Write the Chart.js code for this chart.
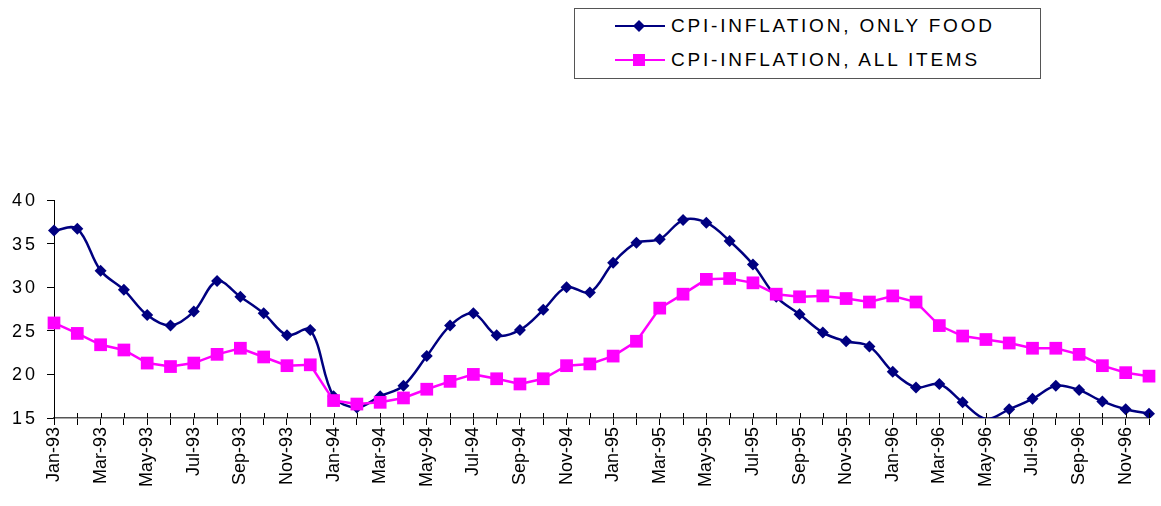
<!DOCTYPE html>
<html>
<head>
<meta charset="utf-8">
<script src="https://cdn.jsdelivr.net/npm/chart.js@4"></script>
<style>
  html, body { margin: 0; padding: 0; background: #fff; }
  #wrap { position: relative; width: 1161px; height: 506px; }
  #chart { position: absolute; left: 0; top: 0; }
  #legend {
    position: absolute; left: 574px; top: 8px; width: 465px; height: 69px;
    border: 1px solid #555; background: #fff;
    font-family: "Liberation Sans", Arial, sans-serif; font-size: 19px; letter-spacing: 2.8px; color: #000;
  }
  .row { position: absolute; left: 40px; height: 20px; display: flex; align-items: center; }
  .row svg { margin-right: 6px; }
</style>
</head>
<body>
<div id="wrap">
  <canvas id="chart" width="1161" height="506"></canvas>
  <div id="legend"></div>
</div>
<script>
// month labels
const months = [
  "Jan-93","Feb-93","Mar-93","Apr-93","May-93","Jun-93","Jul-93","Aug-93","Sep-93","Oct-93","Nov-93","Dec-93",
  "Jan-94","Feb-94","Mar-94","Apr-94","May-94","Jun-94","Jul-94","Aug-94","Sep-94","Oct-94","Nov-94","Dec-94",
  "Jan-95","Feb-95","Mar-95","Apr-95","May-95","Jun-95","Jul-95","Aug-95","Sep-95","Oct-95","Nov-95","Dec-95",
  "Jan-96","Feb-96","Mar-96","Apr-96","May-96","Jun-96","Jul-96","Aug-96","Sep-96","Oct-96","Nov-96","Dec-96"
];

const food_inflation = [
  36.5, 36.7, 31.9, 29.7, 26.8, 25.6, 27.2, 30.7, 28.9, 27.0, 24.5, 25.1,
  17.5, 16.2, 17.5, 18.7, 22.1, 25.6, 27.0, 24.5, 25.1, 27.4, 30.0, 29.4,
  32.8, 35.1, 35.5, 37.7, 37.4, 35.3, 32.6, 28.9, 26.9, 24.8, 23.8, 23.2,
  20.3, 18.5, 18.9, 16.8, 14.9, 16.0, 17.2, 18.7, 18.2, 16.9, 16.0, 15.5
];

const all_items_inflation = [
  25.9, 24.7, 23.4, 22.8, 21.3, 20.9, 21.3, 22.3, 23.0, 22.0, 21.0, 21.1,
  17.0, 16.6, 16.8, 17.3, 18.3, 19.2, 20.0, 19.5, 18.9, 19.5, 21.0, 21.2,
  22.1, 23.8, 27.6, 29.2, 30.9, 31.0, 30.5, 29.2, 28.9, 29.0, 28.7, 28.3,
  29.0, 28.3, 25.6, 24.4, 24.0, 23.6, 23.0, 23.0, 22.3, 21.0, 20.2, 19.8
];

const series_names = ["CPI-INFLATION, ONLY FOOD", "CPI-INFLATION, ALL ITEMS"];
const y_ticks = [15, 20, 25, 30, 35, 40];
const y_min = 15, y_max = 40;

const navy = "#000080";
const magenta = "#FF00FF";
const font_family = "'Liberation Sans', Arial, sans-serif";
const font = { family: font_family, size: 18 };

// legend (html)
const legend = document.getElementById("legend");
const markers = [
  '<polygon points="24,4 30,10 24,16 18,10" fill="' + navy + '"/>',
  '<rect x="18" y="4" width="12" height="12" fill="' + magenta + '"/>'
];
[navy, magenta].forEach((c, i) => {
  const row = document.createElement("div");
  row.className = "row";
  row.style.top = (i === 0 ? 7 : 41) + "px";
  row.innerHTML = '<svg width="50" height="20"><line x1="0" y1="10" x2="50" y2="10" stroke="' + c +
    '" stroke-width="2"/>' + markers[i] + '</svg><span>' + series_names[i] + '</span>';
  legend.appendChild(row);
});

// y labels are spaced out like the excel original, and x ticks cross the axis line
const axis_extras = {
  id: "axis_extras",
  afterDraw(chart) {
    const c = chart.ctx;
    const y = chart.scales.y;
    const x = chart.scales.x;
    c.save();
    c.fillStyle = "#000";
    c.font = "18px " + font_family;
    c.textAlign = "right";
    c.textBaseline = "middle";
    if ("letterSpacing" in c) c.letterSpacing = "3px";
    y_ticks.forEach((v) => {
      c.fillText(String(v), y.left + 38, y.getPixelForValue(v) + 1);
    });
    c.strokeStyle = "#000";
    c.lineWidth = 1;
    c.beginPath();
    for (let i = 0; i < months.length; i++) {
      const px = Math.round(x.getPixelForTick(i)) + 0.5;
      c.moveTo(px, x.top - 5);
      c.lineTo(px, x.top);
    }
    c.stroke();
    c.restore();
  },
};

const ctx = document.getElementById("chart").getContext("2d");
new Chart(ctx, {
  type: "line",
  data: {
    labels: months,
    datasets: [
      {
        label: series_names[0],
        data: food_inflation,
        borderColor: navy,
        backgroundColor: navy,
        borderWidth: 2.5,
        pointStyle: "rectRot",
        // excel leaves out markers that fall below the axis minimum
        pointRadius: (c) => (c.raw < y_min ? 0 : 6),
        pointBorderWidth: 0,
        tension: 0.35,
        order: 1,
      },
      {
        label: series_names[1],
        data: all_items_inflation,
        borderColor: magenta,
        backgroundColor: magenta,
        borderWidth: 2.5,
        pointStyle: "rect",
        pointRadius: 9,
        pointBorderWidth: 0,
        tension: 0,
        order: 0,
      },
    ],
  },
  plugins: [axis_extras],
  options: {
    responsive: false,
    animation: false,
    layout: { padding: { top: 200, right: 12, left: 0, bottom: 0 } },
    plugins: { legend: { display: false }, tooltip: { enabled: false } },
    scales: {
      x: {
        offset: false,
        border: { color: "#555", width: 1.5 },
        grid: { drawOnChartArea: false, drawTicks: true, tickLength: 7, color: "#000" },
        ticks: {
          autoSkip: false,
          maxRotation: 90,
          minRotation: 90,
          padding: 2,
          color: "#000",
          font: font,
          callback: function (v, i) { return i % 2 === 0 ? months[i] : ""; },
        },
        afterFit: (scale) => {
          scale.height = 88;
          scale.paddingRight = 0;
          scale.paddingLeft = 0;
        },
      },
      y: {
        min: y_min,
        max: y_max,
        afterBuildTicks: (scale) => { scale.ticks = y_ticks.map((v) => ({ value: v })); },
        border: { color: "#000", width: 1 },
        grid: { drawOnChartArea: false, drawTicks: true, tickLength: 7, color: "#000" },
        ticks: { display: false },
        afterFit: (scale) => { scale.width = 54; },
      },
    },
  },
});
</script>
</body>
</html>
